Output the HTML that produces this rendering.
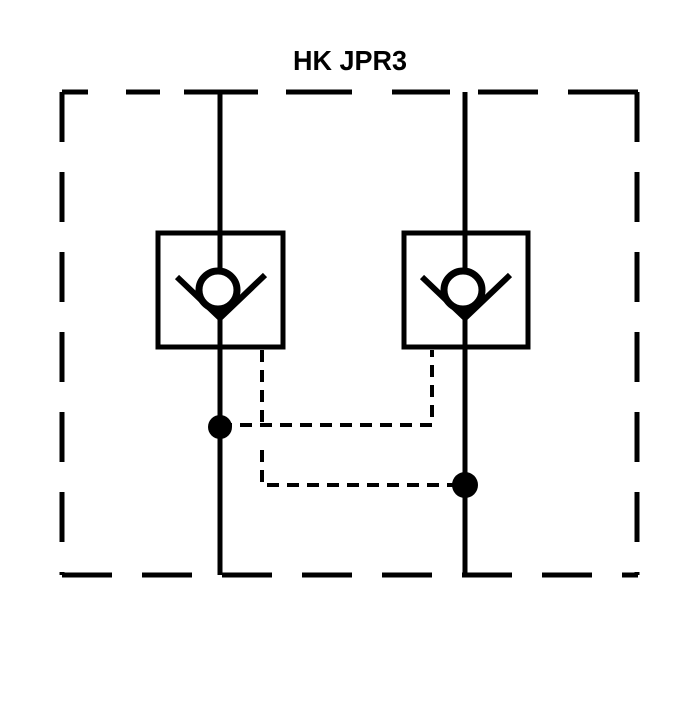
<!DOCTYPE html>
<html><head><style>body{margin:0;background:#fff}</style></head><body>
<svg width="700" height="700" viewBox="0 0 700 700" xmlns="http://www.w3.org/2000/svg">
<rect width="700" height="700" fill="#fff"/>
<text x="350" y="70" text-anchor="middle" font-family="Liberation Sans, sans-serif" font-weight="bold" font-size="28" textLength="114" lengthAdjust="spacingAndGlyphs">HK JPR3</text>
<g stroke="#000" stroke-width="5" fill="none">
<path d="M62 92 H638" stroke-dasharray="26 38 34 24 74 28 66 40 58 28 60 30 76"/>
<path d="M62 575 H638" stroke-dasharray="50 30"/>
<path d="M62 92 V575" stroke-dasharray="50 30"/>
<path d="M637 92 V575" stroke-dasharray="50 30"/>
<path d="M220 92 V575"/>
<path d="M465 92 V575"/>
<rect x="158" y="233" width="125" height="114"/>
<rect x="404" y="233" width="124" height="114"/>
<path d="M177 277 L220 318 L265 275" stroke-width="6"/>
<path d="M422 277 L465 318 L510 275" stroke-width="6"/>
<circle cx="218" cy="290" r="19" fill="#fff" stroke-width="7"/>
<circle cx="463" cy="290" r="19" fill="#fff" stroke-width="7"/>
</g>
<g stroke="#000" stroke-width="4" fill="none" stroke-dasharray="12 8">
<path d="M262 350 V425 M220 425 H432 V350"/>
<path d="M262 450 V485 H465"/>
</g>
<circle cx="220" cy="427" r="12" fill="#000"/>
<circle cx="465" cy="485" r="13" fill="#000"/>
</svg>
</body></html>
